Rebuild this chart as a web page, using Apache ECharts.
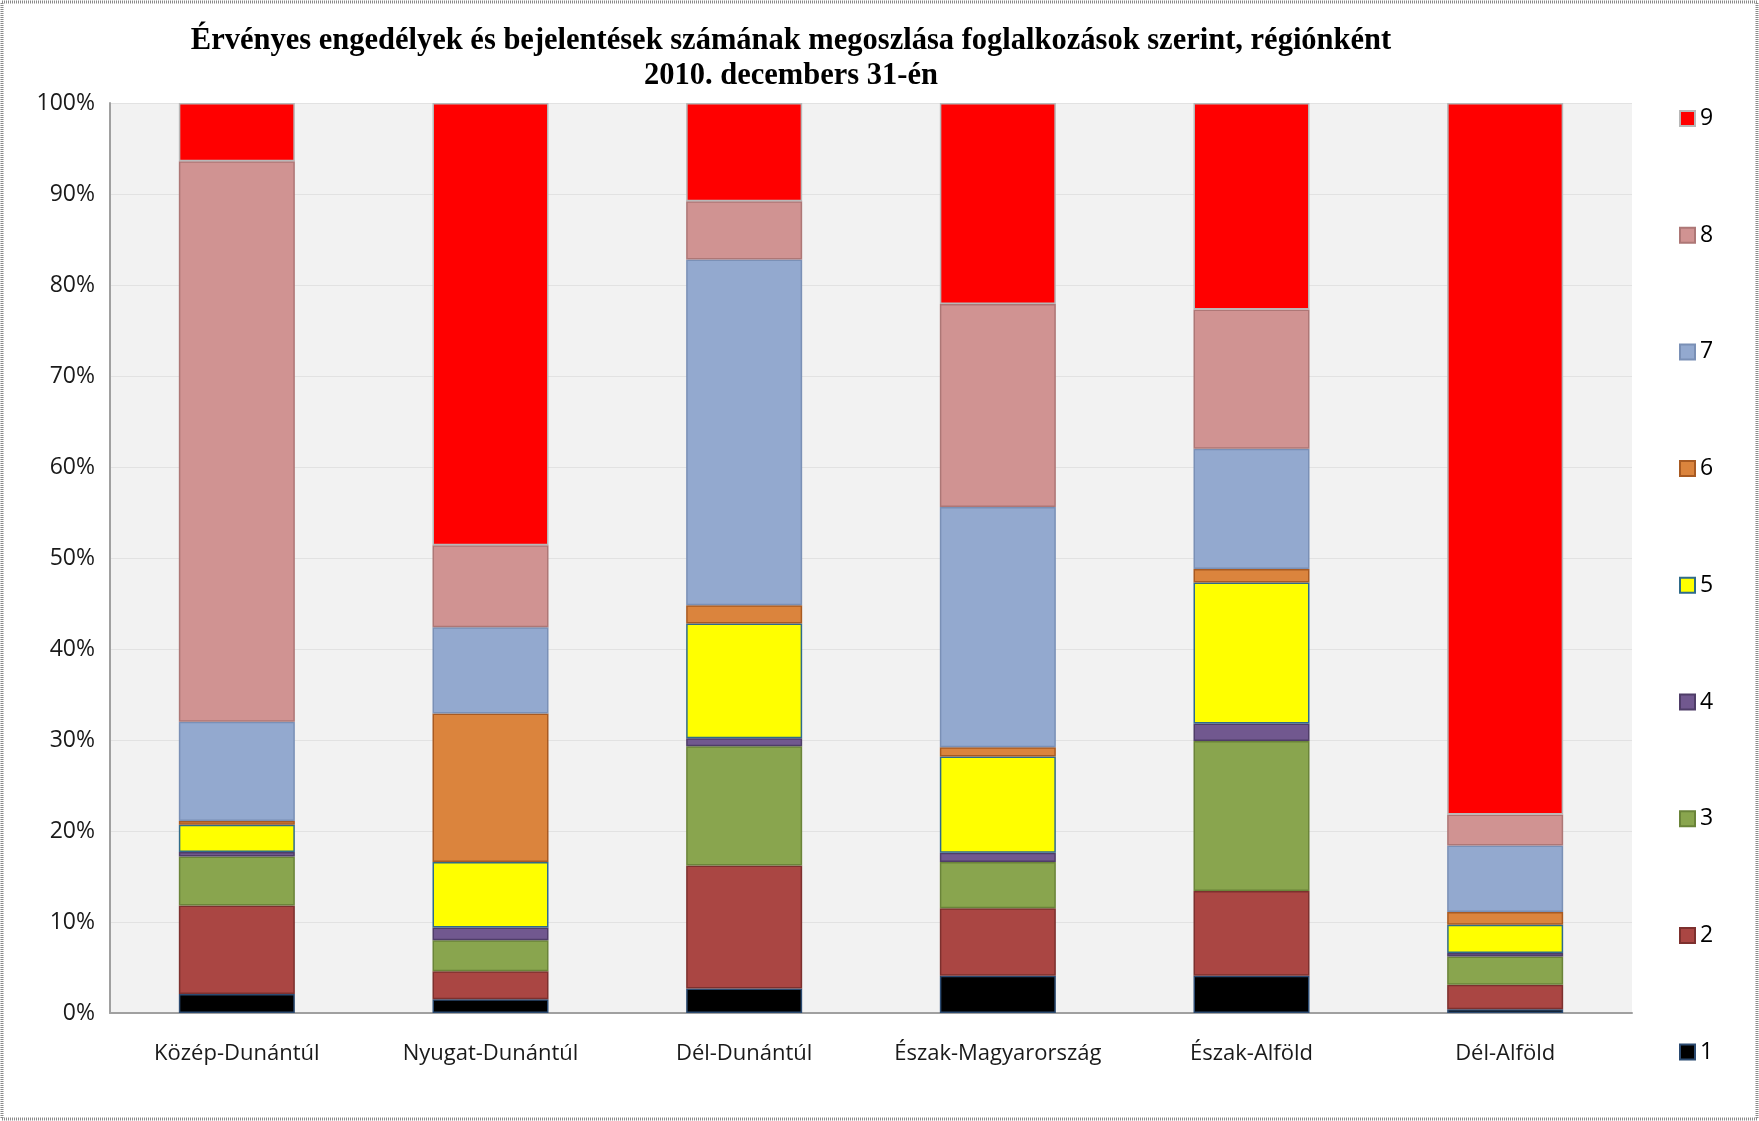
<!DOCTYPE html>
<html>
<head>
<meta charset="utf-8">
<script src="https://cdn.jsdelivr.net/npm/echarts@6/dist/echarts.min.js"></script>
<style>
  html, body { margin: 0; padding: 0; background: #fff; }
  #chart { width: 1759px; height: 1121px; }
</style>
</head>
<body>
<div id="chart"></div>
<script>
// regions (x axis)
var regions = ['Közép-Dunántúl', 'Nyugat-Dunántúl', 'Dél-Dunántúl', 'Észak-Magyarország', 'Észak-Alföld', 'Dél-Alföld'];

// shares in % for each occupation group
var occ1 = [2.1, 1.5, 2.7, 4.1, 4.1, 0.4];
var occ2 = [9.7, 3.1, 13.5, 7.4, 9.3, 2.7];
var occ3 = [5.4, 3.4, 13.1, 5.1, 16.5, 3.1];
var occ4 = [0.5, 1.4, 0.9, 1.0, 1.9, 0.4];
var occ5 = [3.0, 7.2, 12.6, 10.6, 15.5, 3.1];
var occ6 = [0.4, 16.3, 2.0, 1.0, 1.5, 1.4];
var occ7 = [10.9, 9.5, 38.0, 26.4, 13.2, 7.3];
var occ8 = [61.6, 9.0, 6.4, 22.3, 15.3, 3.4];
var occ9 = [6.4, 48.6, 10.8, 22.1, 22.7, 78.2];

var groupNames = ['1', '2', '3', '4', '5', '6', '7', '8', '9'];
var groupData = [occ1, occ2, occ3, occ4, occ5, occ6, occ7, occ8, occ9];
var fills = ['#000000', '#AA4643', '#89A54E', '#71588F', '#FFFF00', '#DB843D', '#93A9CF', '#D09392', '#FF0000'];
var edges = ['#2b4a70', '#7d302e', '#6a8439', '#4f3d68', '#2f6b8a', '#a85a22', '#7a90b6', '#ad7776', '#b8b8b8'];

var yTicks = [0, 10, 20, 30, 40, 50, 60, 70, 80, 90, 100];

var chart = echarts.init(document.getElementById('chart'));

var series = groupNames.map(function (name, i) {
    return {
        name: name,
        type: 'bar',
        stack: 'total',
        barWidth: 116,
        data: groupData[i],
        itemStyle: {
            color: fills[i],
            borderColor: edges[i],
            borderWidth: 1.5
        }
    };
});

chart.setOption({
    backgroundColor: '#ffffff',
    animation: false,
    title: {
        text: 'Érvényes engedélyek és bejelentések számának megoszlása foglalkozások szerint, régiónként\n2010. decembers 31-én',
        left: 786,
        top: 19,
        textAlign: 'center',
        textStyle: {
            fontFamily: 'Liberation Serif',
            fontWeight: 'bold',
            fontSize: 30.5,
            lineHeight: 35,
            color: '#000'
        }
    },
    legend: {
        data: groupNames.slice().reverse(),
        orient: 'vertical',
        left: 1674,
        top: 102,
        itemWidth: 15,
        itemHeight: 15,
        itemGap: 93.7,
        icon: 'rect',
        textStyle: {
            fontFamily: 'Open Sans',
            fontSize: 23,
            lineHeight: 21,
            color: '#000'
        }
    },
    grid: {
        left: 110,
        right: 127,
        top: 103,
        bottom: 108,
        show: true,
        backgroundColor: '#F2F2F2',
        borderWidth: 0
    },
    xAxis: {
        type: 'category',
        data: regions,
        axisLine: { lineStyle: { color: '#A0A0A0', width: 2 } },
        axisTick: { show: false },
        axisLabel: {
            interval: 0,
            margin: 30,
            fontFamily: 'Open Sans',
            fontSize: 22,
            color: '#1a1a1a'
        }
    },
    yAxis: {
        type: 'value',
        min: 0,
        max: 100,
        interval: 10,
        axisLine: { show: true, lineStyle: { color: '#A0A0A0', width: 2 } },
        axisTick: { show: false },
        splitLine: { lineStyle: { color: '#E2E2E2', width: 1 } },
        axisLabel: {
            margin: 15,
            fontFamily: 'Open Sans',
            fontSize: 23,
            color: '#1a1a1a',
            formatter: function (v) { return yTicks.indexOf(v) >= 0 ? v + '%' : ''; }
        }
    },
    graphic: [{
        type: 'rect',
        shape: { x: 2, y: 2, width: 1755, height: 1117 },
        style: { fill: null, stroke: '#8a8a8a', lineWidth: 3, lineDash: [1, 1] },
        silent: true
    }],
    series: series
});
</script>
</body>
</html>
